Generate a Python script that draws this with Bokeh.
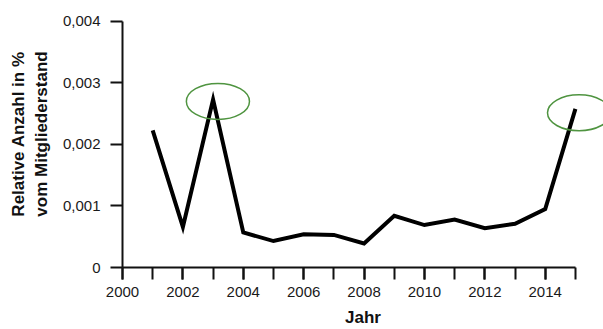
from bokeh.plotting import figure
from bokeh.models import FixedTicker, Range1d
from bokeh.embed import file_html
from bokeh.resources import INLINE

years = list(range(2001, 2016))
values = [0.00223, 0.00066, 0.00273, 0.00057, 0.00043, 0.00054, 0.00053,
          0.00039, 0.00084, 0.00069, 0.00078, 0.00064, 0.00071, 0.00095, 0.00258]

highlight_x = [2003.16, 2015.12]
highlight_y = [0.0027, 0.002515]
highlight_w = [2.09, 2.09]
highlight_h = [0.000585, 0.000585]

x_major = [2000, 2002, 2004, 2006, 2008, 2010, 2012, 2014]
x_minor = list(range(2000, 2016))
y_ticks = [0, 0.001, 0.002, 0.003, 0.004]
y_labels = ["0", "0,001", "0,002", "0,003", "0,004"]

FONT = "Liberation Sans"

p = figure(width=603, height=329, output_backend="svg", toolbar_location=None,
           x_range=Range1d(2000, 2015.93), y_range=Range1d(0, 0.004341),
           min_border_left=122, min_border_right=0, min_border_top=0,
           min_border_bottom=62)
p.outline_line_color = None
p.grid.visible = False
p.background_fill_color = "white"
p.border_fill_color = "white"

p.line(years, values, line_color="black", line_width=4, line_join="miter")
p.ellipse(x=highlight_x, y=highlight_y, width=highlight_w, height=highlight_h,
          fill_color=None, line_color="#4f9440", line_width=1.5)

xa = p.xaxis[0]
xa.ticker = FixedTicker(ticks=x_major, minor_ticks=x_minor)
xa.bounds = (2000, 2015)
xa.axis_label = "Jahr"
ya = p.yaxis[0]
ya.ticker = FixedTicker(ticks=y_ticks, minor_ticks=[])
ya.major_label_overrides = {t: l for t, l in zip(y_ticks, y_labels)}
ya.bounds = (0, 0.004)
ya.axis_label = "Relative Anzahl in %\nvom Mitgliederstand"

for ax in (xa, ya):
    ax.axis_line_color = "#111111"
    ax.axis_line_width = 2
    ax.major_tick_line_color = "#111111"
    ax.major_tick_line_width = 2
    ax.minor_tick_line_color = "#111111"
    ax.minor_tick_line_width = 2
    ax.major_tick_out = 12
    ax.major_tick_in = 0
    ax.minor_tick_out = 12
    ax.minor_tick_in = 0
    ax.major_label_text_font = FONT
    ax.major_label_text_font_size = "15px"
    ax.major_label_text_color = "#1a1a1a"
    ax.axis_label_text_font = FONT
    ax.axis_label_text_font_size = "17px"
    ax.axis_label_text_font_style = "bold"
    ax.axis_label_text_color = "#111111"

xa.major_label_standoff = 7
xa.axis_label_standoff = 8
ya.major_label_standoff = 10
ya.axis_label_standoff = 9

open("out.html", "w").write(file_html(p, INLINE))
